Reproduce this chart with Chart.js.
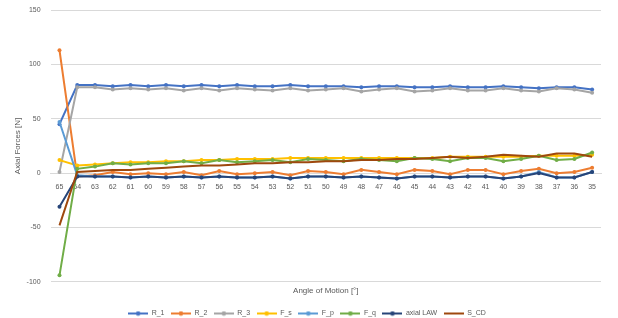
<!DOCTYPE html>
<html>
<head>
<meta charset="utf-8">
<script src="https://cdn.jsdelivr.net/npm/chart.js@4/dist/chart.umd.min.js"></script>
<style>
html,body{margin:0;padding:0;background:#fff;}
#wrap{width:618px;height:318px;}
</style>
</head>
<body>
<div id="wrap"><canvas id="c" width="618" height="318"></canvas></div>
<script>
const categories = ['65','64','63','62','61','60','59','58','57','56','55','54','53','52','51','50','49','48','47','46','45','44','43','42','41','40','39','38','37','36','35'];
const R_1 = [45,81,81,80,81,80,81,80,81,80,81,80,80,81,80,80,80,79,80,80,79,79,80,79,79,80,79,78,79,79,77];
const R_2 = [113,-3,-2,1,-1,0,-1,1,-2,2,-1,0,1,-2,2,1,-1,3,1,-1,3,2,-1,3,3,-1,2,4,0,1,5];
const R_3 = [1,79,79,77,78,77,78,76,78,76,78,77,76,78,76,77,78,75,77,78,75,76,78,76,76,78,76,75,78,77,74];
const F_s = [12,7,8,9,10,10,11,11,12,12,13,13,13,14,14,14,14,14,14,14,14,14,15,15,15,15,15,16,16,16,17];
const F_p = [47,-2,-3,-3,-4,-3,-4,-3,-4,-3,-4,-4,-3,-5,-3,-3,-4,-3,-4,-5,-3,-3,-4,-3,-3,-5,-3,1,-4,-4,1];
const F_q = [-94,4,6,9,8,9,9,11,9,12,10,11,12,10,13,12,11,13,12,11,14,13,11,14,14,11,13,16,12,13,19];
const axialLAW = [-31,-3,-3,-3,-4,-3,-4,-3,-4,-3,-4,-4,-3,-5,-3,-3,-4,-3,-4,-5,-3,-3,-4,-3,-3,-5,-3,0,-4,-4,1];
const S_CD = [-48,1,2,3,3,4,5,6,7,7,8,9,9,10,10,11,11,12,12,13,13,14,15,14,15,17,16,15,18,18,15];
const yTicks = [-100,-50,0,50,100,150];

const seriesNames = ['R_1','R_2','R_3','F_s','F_p','F_q','axial LAW','S_CD'];
const seriesData = [R_1,R_2,R_3,F_s,F_p,F_q,axialLAW,S_CD];
const colors = ['#4472C4','#ED7D31','#A5A5A5','#FFC000','#5B9BD5','#70AD47','#264478','#9E480E'];
const markers = [true,true,true,true,true,true,true,false];

function legendIcon(color, marker){
  const cv = document.createElement('canvas');
  cv.width = 20; cv.height = 6;
  const g = cv.getContext('2d');
  g.strokeStyle = color; g.lineWidth = 2;
  g.beginPath(); g.moveTo(0,3); g.lineTo(20,3); g.stroke();
  if(marker){ g.fillStyle = color; g.beginPath(); g.arc(10,3,2.3,0,Math.PI*2); g.fill(); }
  return cv;
}

const datasets = seriesNames.map((n,i)=>({
  label:n,
  data:seriesData[i],
  borderColor:colors[i],
  backgroundColor:colors[i],
  borderWidth:2,
  pointRadius:markers[i]?2:0,
  pointHoverRadius:markers[i]?2:0,
  pointBorderWidth:0,
  pointStyle: 'circle',
  tension:0,
  order: seriesNames.length - i,
  icon: legendIcon(colors[i], markers[i])
}));

const fontFam = '"Liberation Sans", Arial, sans-serif';
const zeroPad = (s)=>{ s.paddingTop = 0; s.paddingBottom = 0; };

new Chart(document.getElementById('c'),{
  type:'line',
  data:{labels:categories,datasets},
  options:{
    responsive:false,
    animation:false,
    events:[],
    layout:{padding:{left:13,right:17,top:10,bottom:-9}},
    plugins:{
      tooltip:{enabled:false},
      legend:{
        position:'bottom',
        sort:(a,b)=>a.datasetIndex-b.datasetIndex,
        labels:{
          usePointStyle:true,
          pointStyleWidth:20,
          boxHeight:6,
          color:'#595959',
          font:{family:fontFam,size:7},
          padding:6.5,
          generateLabels:(chart)=>chart.data.datasets.map((d,i)=>({
            text:d.label, fillStyle:d.borderColor, strokeStyle:d.borderColor,
            lineWidth:0, pointStyle:d.icon, datasetIndex:i, hidden:false, fontColor:'#595959'
          }))
        }
      }
    },
    scales:{
      x:{
        type:'category',
        position:{y:0},
        offset:true,
        grid:{display:false},
        border:{display:true,color:'#D9D9D9',width:1},
        ticks:{color:'#595959',font:{family:fontFam,size:7},maxRotation:0,autoSkip:false,padding:2}
      },
      x2:{
        type:'category',
        position:'bottom',
        labels:categories,
        grid:{display:false,drawTicks:false},
        border:{display:false},
        ticks:{display:false},
        title:{display:true,text:'Angle of Motion [°]',color:'#595959',font:{family:fontFam,size:8},padding:{top:4,bottom:8}}
      },
      y:{
        min:-100,max:150,
        afterBuildTicks:(s)=>{s.ticks = yTicks.map(v=>({value:v}));},
        afterFit: zeroPad,
        grid:{color:'#D9D9D9',drawTicks:false},
        border:{display:false},
        ticks:{color:'#595959',font:{family:fontFam,size:7},padding:10},
        title:{display:true,text:'Axial Forces [N]',color:'#595959',font:{family:fontFam,size:8},padding:{top:0,bottom:-6}}
      }
    }
  }
});
</script>
</body>
</html>
